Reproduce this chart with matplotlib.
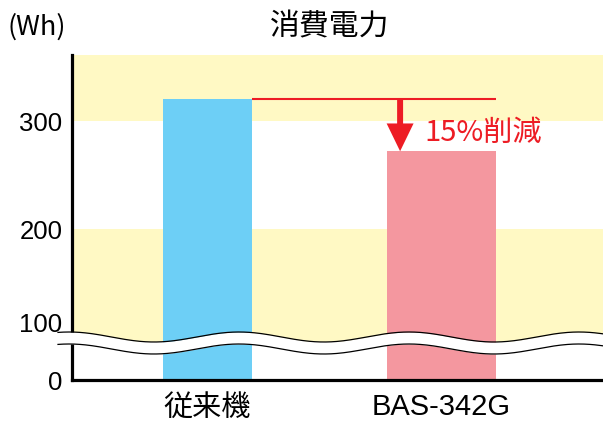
import numpy as np
import matplotlib
matplotlib.use("Agg")
import matplotlib.pyplot as plt
from matplotlib.transforms import ScaledTranslation

plt.rcParams['font.family'] = ['Noto Sans CJK JP', 'DejaVu Sans']

# ---- data ----
categories = ['従来機', 'BAS-342G']
values = [320, 272]
bar_widths = [0.38, 0.466]
bar_colors = ['#6DCFF6', '#F4979F']
yticks_top = [100, 200, 300]
ytick_labels_top = ['100', '200', '300']
yticks_bot = [0]
ytick_labels_bot = ['0']
band_ranges = [(0, 200), (300, 400)]
title = '消費電力'
unit = '(Wh)'
reduction_label = '15%削減'

W, H = 603, 423
fig = plt.figure(figsize=(W / 100, H / 100), dpi=100)

def px_rect(x0, y_top, x1, y_bot):
    return [x0 / W, 1 - y_bot / H, (x1 - x0) / W, (y_bot - y_top) / H]

ax_top = fig.add_axes(px_rect(72, 55, 603, 342))
ax_bot = fig.add_axes(px_rect(72, 342, 603, 380))

xlim = (-0.579, 1.690)
ppu = 1.08  # pixels per unit
ax_top.set_ylim(300 - (342 - 121) / ppu, 300 + (121 - 55) / ppu)
ax_bot.set_ylim(0, (380 - 342) / ppu)

yellow = '#FFF9C4'
for ax in (ax_top, ax_bot):
    ax.set_xlim(*xlim)
    ax.spines['top'].set_visible(False)
    ax.spines['right'].set_visible(False)
    ax.spines['left'].set_linewidth(2.3)
    ax.spines['bottom'].set_linewidth(2.3)
    ax.tick_params(length=0)
    ax.set_facecolor('white')
    xs = np.arange(len(categories))
    ax.bar(xs, values, width=bar_widths, color=bar_colors, zorder=2)

for lo, hi in band_ranges:
    ax_top.axhspan(lo, hi, color=yellow, zorder=0, lw=0)

ax_top.spines['bottom'].set_visible(False)
ax_top.set_xticks([])
ax_top.set_yticks(yticks_top, ytick_labels_top)
ax_top.tick_params(axis='y', pad=7, labelsize=18.5)
for lbl in ax_top.get_yticklabels():
    lbl.set_family('Liberation Sans')
# nudge the "100" label up (it sits above the axis break in the original)
lbl100 = ax_top.get_yticklabels()[0]
lbl100.set_transform(lbl100.get_transform() + ScaledTranslation(0, 15 / 100, fig.dpi_scale_trans))

ax_bot.set_yticks(yticks_bot, ytick_labels_bot)
ax_bot.tick_params(axis='y', pad=7, labelsize=18.5)
for lbl in ax_bot.get_yticklabels():
    lbl.set_family('Liberation Sans')
ax_bot.set_xticks(np.arange(len(categories)), categories)
ax_bot.tick_params(axis='x', pad=9, labelsize=21)
ax_bot.get_xticklabels()[1].set_family(['Liberation Sans'])
ax_bot.get_xticklabels()[1].set_fontsize(21)

# reduction line and arrow
red = '#ED1C24'
x_start = 0 + bar_widths[0] / 2
x_end = 1 + bar_widths[1] / 2
ax_top.hlines(values[0], x_start, x_end, color=red, lw=1.5, zorder=3)
x_arrow = 0.823
ax_top.annotate('', xy=(x_arrow, values[1]), xytext=(x_arrow, values[0]),
                arrowprops=dict(arrowstyle='simple,head_length=2.0,head_width=1.94,tail_width=0.43',
                                mutation_scale=10, color=red, lw=0,
                                shrinkA=0, shrinkB=0), zorder=4)
ax_top.text(0.925, 289, reduction_label, color=red, fontsize=21, ha='left', va='center', zorder=4)

# title and unit
fig.text(330 / W, 1 - 27 / H, title, ha='center', va='center', fontsize=21.5)
fig.text(8 / W, 1 - 27 / H, unit, ha='left', va='center', fontsize=19.5)

# axis break wave overlay
ov = fig.add_axes([0, 0, 1, 1], zorder=10)
ov.set_xlim(0, W)
ov.set_ylim(H, 0)
ov.axis('off')
ov.patch.set_alpha(0)
wx = np.linspace(58, W, 400)
phase = 2 * np.pi * (wx - 154) / 170
upper = 337 + 5 * np.cos(phase)
lower = upper + 12
ov.fill_between(wx, upper, lower, color='white', lw=0)
ov.plot(wx, upper, color='black', lw=0.9)
ov.plot(wx, lower, color='black', lw=0.9)

fig.savefig('out.png', dpi=100)
